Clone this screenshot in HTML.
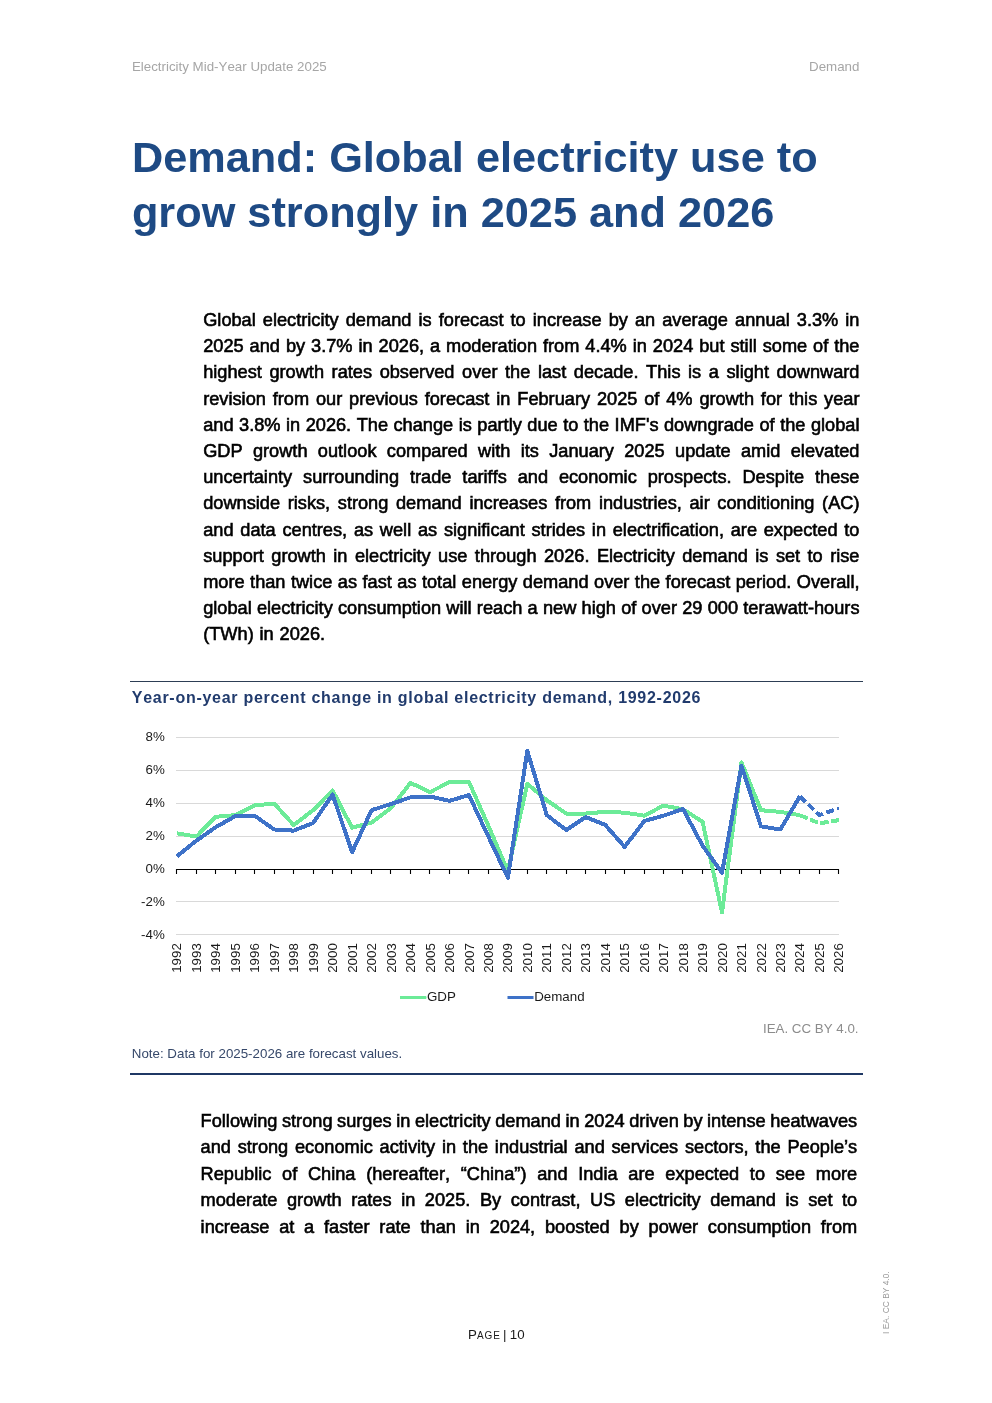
<!DOCTYPE html>
<html><head><meta charset="utf-8"><title>Demand</title>
<style>
*{margin:0;padding:0;box-sizing:border-box}
html,body{width:992px;height:1403px;background:#fff;overflow:hidden}
body{position:relative;font-kerning:none;-webkit-font-smoothing:antialiased;font-family:"Liberation Sans",sans-serif;color:#000}
.abs{position:absolute;white-space:nowrap}
.hdr{font-size:13.33px;line-height:16px;color:#a6a6a6;top:58.5px}
.title{left:131.9px;top:129.8px;font-size:43.3px;line-height:55px;font-weight:bold;color:#1e4a84;white-space:nowrap}
.para{position:absolute;font-size:18.2px;color:#000;-webkit-text-stroke:0.6px #000}
.para .ln{text-align:justify;text-align-last:justify;white-space:normal;word-spacing:-3px}
.para .ln.last{text-align-last:left;word-spacing:0.8px}
#p1{left:203.2px;top:306.9px;width:656.3px;line-height:26.2px}
#p2{left:200.6px;top:1107.6px;width:656.6px;line-height:26.5px}
.rule{position:absolute;left:130px;width:733px}
.ctitle{left:131.8px;top:687.8px;font-size:16px;line-height:20px;font-weight:bold;color:#213b6d;letter-spacing:0.72px}
.note{left:131.8px;top:1045.8px;font-size:13.33px;line-height:16px;color:#36486a}
.credit{right:133.5px;top:1020.9px;font-size:13.33px;line-height:16px;color:#8c8c8c}
.chart{position:absolute;left:0;top:0}
.yl{font-family:"Liberation Sans",sans-serif;font-size:13.33px;fill:#1a1a1a}
.lg{font-family:"Liberation Sans",sans-serif;font-size:13.33px;fill:#1a1a1a}
.footer{left:468px;top:1326.9px;font-size:13.3px;line-height:16px;color:#1a1a1a}
.footer .sc{font-size:10px;letter-spacing:0.95px}
.vert{left:881.2px;top:1333.8px;font-size:8.45px;line-height:10px;color:#9a9a9a;transform-origin:0 0;transform:rotate(-90deg)}
</style></head><body>
<div id="pg" style="position:absolute;left:0;top:0;width:992px;height:1403px;will-change:transform">
<div class="abs hdr" style="left:131.9px">Electricity Mid-Year Update 2025</div>
<div class="abs hdr" style="right:132.6px">Demand</div>
<div class="abs title">Demand: Global electricity use to<br>grow strongly in 2025 and 2026</div>
<div class="para" id="p1">
<div class="ln">Global electricity demand is forecast to increase by an average annual 3.3% in</div>
<div class="ln">2025 and by 3.7% in 2026, a moderation from 4.4% in 2024 but still some of the</div>
<div class="ln">highest growth rates observed over the last decade. This is a slight downward</div>
<div class="ln">revision from our previous forecast in February 2025 of 4% growth for this year</div>
<div class="ln">and 3.8% in 2026. The change is partly due to the IMF's downgrade of the global</div>
<div class="ln">GDP growth outlook compared with its January 2025 update amid elevated</div>
<div class="ln">uncertainty surrounding trade tariffs and economic prospects. Despite these</div>
<div class="ln">downside risks, strong demand increases from industries, air conditioning (AC)</div>
<div class="ln">and data centres, as well as significant strides in electrification, are expected to</div>
<div class="ln">support growth in electricity use through 2026. Electricity demand is set to rise</div>
<div class="ln">more than twice as fast as total energy demand over the forecast period. Overall,</div>
<div class="ln">global electricity consumption will reach a new high of over 29 000 terawatt-hours</div>
<div class="ln last">(TWh) in 2026.</div>
</div>
<div class="rule" style="top:680.7px;height:1.4px;background:#2d3e55"></div>
<div class="abs ctitle">Year-on-year percent change in global electricity demand, 1992-2026</div>
<svg class="chart" width="992" height="1403" viewBox="0 0 992 1403">
<line x1="176" x2="839" y1="737.5" y2="737.5" stroke="#d9d9d9" stroke-width="1"/>
<line x1="176" x2="839" y1="770.5" y2="770.5" stroke="#d9d9d9" stroke-width="1"/>
<line x1="176" x2="839" y1="803.5" y2="803.5" stroke="#d9d9d9" stroke-width="1"/>
<line x1="176" x2="839" y1="836.5" y2="836.5" stroke="#d9d9d9" stroke-width="1"/>
<line x1="176" x2="839" y1="901.5" y2="901.5" stroke="#d9d9d9" stroke-width="1"/>
<line x1="176" x2="839" y1="934.5" y2="934.5" stroke="#d9d9d9" stroke-width="1"/>
<text x="164.8" y="741.14" text-anchor="end" class="yl">8%</text>
<text x="164.8" y="774.08" text-anchor="end" class="yl">6%</text>
<text x="164.8" y="807.02" text-anchor="end" class="yl">4%</text>
<text x="164.8" y="839.96" text-anchor="end" class="yl">2%</text>
<text x="164.8" y="872.90" text-anchor="end" class="yl">0%</text>
<text x="164.8" y="905.84" text-anchor="end" class="yl">-2%</text>
<text x="164.8" y="938.78" text-anchor="end" class="yl">-4%</text>
<text transform="translate(181.45,972.8) rotate(-90)" class="yl">1992</text>
<text transform="translate(200.92,972.8) rotate(-90)" class="yl">1993</text>
<text transform="translate(220.39,972.8) rotate(-90)" class="yl">1994</text>
<text transform="translate(239.86,972.8) rotate(-90)" class="yl">1995</text>
<text transform="translate(259.33,972.8) rotate(-90)" class="yl">1996</text>
<text transform="translate(278.80,972.8) rotate(-90)" class="yl">1997</text>
<text transform="translate(298.27,972.8) rotate(-90)" class="yl">1998</text>
<text transform="translate(317.74,972.8) rotate(-90)" class="yl">1999</text>
<text transform="translate(337.21,972.8) rotate(-90)" class="yl">2000</text>
<text transform="translate(356.68,972.8) rotate(-90)" class="yl">2001</text>
<text transform="translate(376.15,972.8) rotate(-90)" class="yl">2002</text>
<text transform="translate(395.62,972.8) rotate(-90)" class="yl">2003</text>
<text transform="translate(415.09,972.8) rotate(-90)" class="yl">2004</text>
<text transform="translate(434.56,972.8) rotate(-90)" class="yl">2005</text>
<text transform="translate(454.03,972.8) rotate(-90)" class="yl">2006</text>
<text transform="translate(473.50,972.8) rotate(-90)" class="yl">2007</text>
<text transform="translate(492.97,972.8) rotate(-90)" class="yl">2008</text>
<text transform="translate(512.44,972.8) rotate(-90)" class="yl">2009</text>
<text transform="translate(531.91,972.8) rotate(-90)" class="yl">2010</text>
<text transform="translate(551.38,972.8) rotate(-90)" class="yl">2011</text>
<text transform="translate(570.85,972.8) rotate(-90)" class="yl">2012</text>
<text transform="translate(590.32,972.8) rotate(-90)" class="yl">2013</text>
<text transform="translate(609.79,972.8) rotate(-90)" class="yl">2014</text>
<text transform="translate(629.26,972.8) rotate(-90)" class="yl">2015</text>
<text transform="translate(648.73,972.8) rotate(-90)" class="yl">2016</text>
<text transform="translate(668.20,972.8) rotate(-90)" class="yl">2017</text>
<text transform="translate(687.67,972.8) rotate(-90)" class="yl">2018</text>
<text transform="translate(707.14,972.8) rotate(-90)" class="yl">2019</text>
<text transform="translate(726.61,972.8) rotate(-90)" class="yl">2020</text>
<text transform="translate(746.08,972.8) rotate(-90)" class="yl">2021</text>
<text transform="translate(765.55,972.8) rotate(-90)" class="yl">2022</text>
<text transform="translate(785.02,972.8) rotate(-90)" class="yl">2023</text>
<text transform="translate(804.49,972.8) rotate(-90)" class="yl">2024</text>
<text transform="translate(823.96,972.8) rotate(-90)" class="yl">2025</text>
<text transform="translate(843.43,972.8) rotate(-90)" class="yl">2026</text>
<line x1="176" x2="839" y1="869.5" y2="869.5" stroke="#000" stroke-width="1.1"/>
<line x1="176.50" x2="176.50" y1="869" y2="874" stroke="#000" stroke-width="1.1"/>
<line x1="196.50" x2="196.50" y1="869" y2="874" stroke="#000" stroke-width="1.1"/>
<line x1="215.50" x2="215.50" y1="869" y2="874" stroke="#000" stroke-width="1.1"/>
<line x1="235.50" x2="235.50" y1="869" y2="874" stroke="#000" stroke-width="1.1"/>
<line x1="254.50" x2="254.50" y1="869" y2="874" stroke="#000" stroke-width="1.1"/>
<line x1="274.50" x2="274.50" y1="869" y2="874" stroke="#000" stroke-width="1.1"/>
<line x1="293.50" x2="293.50" y1="869" y2="874" stroke="#000" stroke-width="1.1"/>
<line x1="313.50" x2="313.50" y1="869" y2="874" stroke="#000" stroke-width="1.1"/>
<line x1="332.50" x2="332.50" y1="869" y2="874" stroke="#000" stroke-width="1.1"/>
<line x1="351.50" x2="351.50" y1="869" y2="874" stroke="#000" stroke-width="1.1"/>
<line x1="371.50" x2="371.50" y1="869" y2="874" stroke="#000" stroke-width="1.1"/>
<line x1="390.50" x2="390.50" y1="869" y2="874" stroke="#000" stroke-width="1.1"/>
<line x1="410.50" x2="410.50" y1="869" y2="874" stroke="#000" stroke-width="1.1"/>
<line x1="429.50" x2="429.50" y1="869" y2="874" stroke="#000" stroke-width="1.1"/>
<line x1="449.50" x2="449.50" y1="869" y2="874" stroke="#000" stroke-width="1.1"/>
<line x1="468.50" x2="468.50" y1="869" y2="874" stroke="#000" stroke-width="1.1"/>
<line x1="488.50" x2="488.50" y1="869" y2="874" stroke="#000" stroke-width="1.1"/>
<line x1="507.50" x2="507.50" y1="869" y2="874" stroke="#000" stroke-width="1.1"/>
<line x1="527.50" x2="527.50" y1="869" y2="874" stroke="#000" stroke-width="1.1"/>
<line x1="546.50" x2="546.50" y1="869" y2="874" stroke="#000" stroke-width="1.1"/>
<line x1="566.50" x2="566.50" y1="869" y2="874" stroke="#000" stroke-width="1.1"/>
<line x1="585.50" x2="585.50" y1="869" y2="874" stroke="#000" stroke-width="1.1"/>
<line x1="605.50" x2="605.50" y1="869" y2="874" stroke="#000" stroke-width="1.1"/>
<line x1="624.50" x2="624.50" y1="869" y2="874" stroke="#000" stroke-width="1.1"/>
<line x1="644.50" x2="644.50" y1="869" y2="874" stroke="#000" stroke-width="1.1"/>
<line x1="663.50" x2="663.50" y1="869" y2="874" stroke="#000" stroke-width="1.1"/>
<line x1="682.50" x2="682.50" y1="869" y2="874" stroke="#000" stroke-width="1.1"/>
<line x1="702.50" x2="702.50" y1="869" y2="874" stroke="#000" stroke-width="1.1"/>
<line x1="721.50" x2="721.50" y1="869" y2="874" stroke="#000" stroke-width="1.1"/>
<line x1="741.50" x2="741.50" y1="869" y2="874" stroke="#000" stroke-width="1.1"/>
<line x1="760.50" x2="760.50" y1="869" y2="874" stroke="#000" stroke-width="1.1"/>
<line x1="780.50" x2="780.50" y1="869" y2="874" stroke="#000" stroke-width="1.1"/>
<line x1="799.50" x2="799.50" y1="869" y2="874" stroke="#000" stroke-width="1.1"/>
<line x1="819.50" x2="819.50" y1="869" y2="874" stroke="#000" stroke-width="1.1"/>
<line x1="838.50" x2="838.50" y1="869" y2="874" stroke="#000" stroke-width="1.1"/>
<polyline points="176.85,833.27 196.32,836.56 215.79,816.80 235.26,815.15 254.73,805.27 274.20,803.62 293.67,825.03 313.14,810.21 332.61,790.44 352.08,827.67 371.55,822.56 391.02,807.90 410.49,782.87 429.96,792.09 449.43,782.21 468.90,781.88 488.37,825.85 507.84,871.15 527.31,783.86 546.78,800.33 566.25,813.50 585.72,813.50 605.19,811.86 624.66,812.68 644.13,815.64 663.60,805.60 683.07,809.38 702.54,821.74 722.01,912.32 741.48,762.45 760.95,810.21 780.42,811.86 799.89,815.15" fill="none" stroke="#6ceb98" stroke-width="4" stroke-linejoin="round" shape-rendering="crispEdges"/>
<polyline points="799.89,815.15 819.36,823.38 838.83,820.09" fill="none" stroke="#6ceb98" stroke-width="4" stroke-dasharray="8.5 2.5" shape-rendering="crispEdges"/>
<polyline points="176.85,856.32 196.32,840.68 215.79,827.17 235.26,816.14 254.73,815.81 274.20,829.48 293.67,830.63 313.14,823.05 332.61,794.56 352.08,852.21 371.55,810.21 391.02,803.95 410.49,797.36 429.96,796.54 449.43,800.82 468.90,795.06 488.37,836.56 507.84,877.74 527.31,750.92 546.78,815.15 566.25,829.97 585.72,817.13 605.19,824.87 624.66,846.94 644.13,821.08 663.60,815.64 683.07,809.06 702.54,845.62 722.01,872.79 741.48,765.74 760.95,826.35 780.42,829.48 799.89,796.21" fill="none" stroke="#3e72c8" stroke-width="4" stroke-linejoin="round" shape-rendering="crispEdges"/>
<polyline points="799.89,796.21 819.36,815.15 838.83,808.23" fill="none" stroke="#3e72c8" stroke-width="4" stroke-dasharray="8 3.5" shape-rendering="crispEdges"/>
<rect x="400" y="996" width="26" height="3" fill="#6ceb98"/><rect x="426" y="996.5" width="1" height="2" fill="#6ceb98" opacity="0.5"/>
<rect x="507.5" y="996" width="26" height="3" fill="#3e72c8"/>
<text x="427" y="1000.9" class="lg">GDP</text>
<text x="534.2" y="1000.9" class="lg">Demand</text>
</svg>
<div class="abs credit">IEA. CC BY 4.0.</div>
<div class="abs note">Note: Data for 2025-2026 are forecast values.</div>
<div class="rule" style="top:1073px;height:2px;background:#1f3864"></div>
<div class="para" id="p2">
<div class="ln">Following strong surges in electricity demand in 2024 driven by intense heatwaves</div>
<div class="ln">and strong economic activity in the industrial and services sectors, the People&#8217;s</div>
<div class="ln">Republic of China (hereafter, &#8220;China&#8221;) and India are expected to see more</div>
<div class="ln">moderate growth rates in 2025. By contrast, US electricity demand is set to</div>
<div class="ln">increase at a faster rate than in 2024, boosted by power consumption from</div>
</div>
<div class="abs footer">P<span class="sc">AGE</span><span style="margin-left:2.1px">|</span><span style="margin-left:3.4px">10</span></div>
<div class="abs vert">I EA. CC BY 4.0.</div>
</div>
</body></html>
